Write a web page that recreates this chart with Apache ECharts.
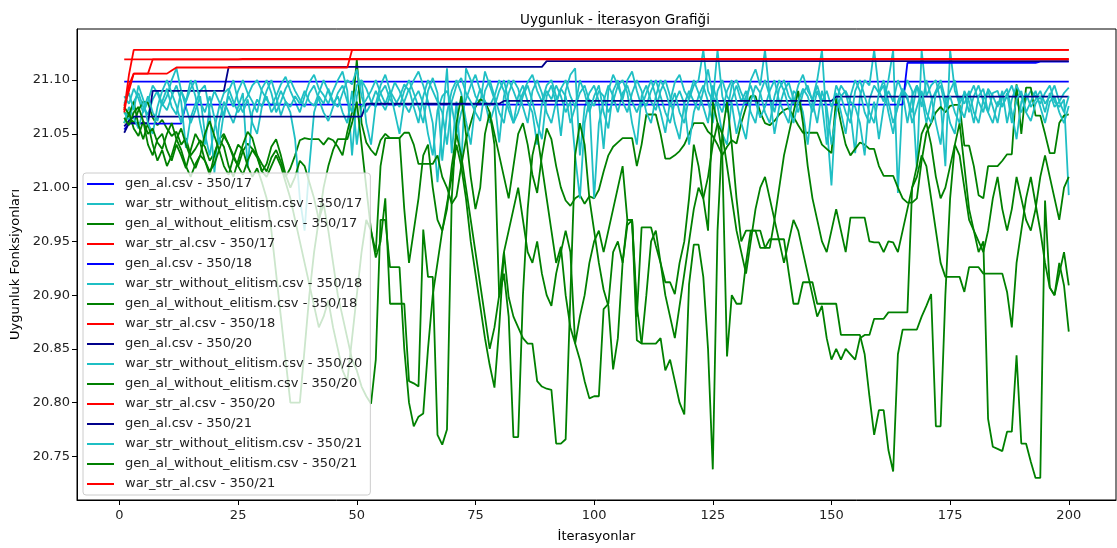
<!DOCTYPE html>
<html><head><meta charset="utf-8">
<script src="https://cdn.jsdelivr.net/npm/echarts@6/dist/echarts.min.js"></script>
<style>html,body{margin:0;padding:0;background:#fff}#c{width:1117px;height:548px}</style>
</head><body><div id="c"></div>
<script>
const chartTitle = 'Uygunluk - İterasyon Grafiği';
const xName = 'İterasyonlar';
const yName = 'Uygunluk Fonksiyonları';
const xTicks = [0, 25, 50, 75, 100, 125, 150, 175, 200];
const yTicks = [20.75, 20.80, 20.85, 20.90, 20.95, 21.00, 21.05, 21.10];
const iterations = Array.from({length: 200}, (_, k) => k + 1);

// elitist runs: [iteration, value] at the iterations where the best value changes
const genAl17 = [[1,21.0985],[200,21.0985]];
const genAl18 = [[1,21.054],[2,21.0595],[13,21.0595],[14,21.0772],[165,21.0772],[166,21.116],[193,21.116],[194,21.1172],[200,21.1172]];
const genAl20 = [[1,21.051],[2,21.060],[6,21.060],[7,21.090],[22,21.090],[23,21.1123],[89,21.1123],[90,21.1176],[200,21.1176]];
const genAl21 = [[1,21.057],[2,21.062],[3,21.066],[51,21.066],[52,21.078],[80,21.078],[81,21.0806],[150,21.0806],[151,21.0846],[200,21.0846]];
const warStrAl17 = [[1,21.072],[2,21.105],[3,21.128],[200,21.128]];
const warStrAl18 = [[1,21.1192],[25,21.1192],[26,21.1196],[200,21.1196]];
const warStrAl20 = [[1,21.070],[2,21.095],[3,21.106],[10,21.106],[11,21.109],[12,21.1117],[48,21.1117],[49,21.128],[200,21.128]];
const warStrAl21 = [[1,21.076],[2,21.090],[3,21.106],[6,21.106],[7,21.1192],[200,21.1192]];

const warWo17 = [
21.085,21.078,21.092,21.083,21.070,21.080,21.095,21.088,21.076,21.085,
21.100,21.111,21.090,21.075,21.060,21.072,21.085,21.050,21.030,21.055,
21.075,21.088,21.092,21.080,21.070,21.078,21.085,21.095,21.100,21.090,
21.082,21.076,21.085,21.096,21.103,21.090,21.080,21.070,21.085,21.098,
21.105,21.092,21.086,21.078,21.090,21.100,21.108,21.090,21.030,21.085,
21.100,21.092,21.080,21.075,21.088,21.095,21.082,21.076,21.084,21.096,
21.090,21.100,21.108,21.095,21.080,21.060,21.005,21.060,21.111,21.032,
21.080,21.020,21.111,21.100,21.085,21.078,21.108,21.095,21.082,21.042,
21.085,21.100,21.090,21.078,21.088,21.098,21.105,21.090,21.080,21.095,
21.100,21.085,21.048,21.090,21.105,21.111,21.030,21.075,21.088,21.095,
21.080,21.036,21.090,21.105,21.095,21.082,21.100,21.108,21.090,21.075,
21.088,21.100,21.085,21.070,21.051,21.080,21.098,21.105,21.090,21.082,
21.095,21.100,21.128,21.090,21.080,21.128,21.085,21.070,21.095,21.100,
21.088,21.078,21.100,21.110,21.095,21.128,21.085,21.070,21.092,21.100,
21.085,21.078,21.095,21.105,21.090,21.082,21.100,21.128,21.060,21.002,
21.080,21.095,21.088,21.070,21.032,21.085,21.100,21.095,21.128,21.090,
21.080,21.100,21.128,20.995,21.085,21.100,21.090,21.017,21.128,21.085,
21.095,21.100,21.080,21.020,21.128,21.090,21.078,21.088,21.070,21.085,
21.095,21.080,21.070,21.088,21.090,21.076,21.085,21.095,21.080,21.070,
21.082,21.090,21.085,21.078,21.088,21.095,21.080,21.075,21.082,20.993];
const warWo18 = [
21.070,21.062,21.080,21.088,21.075,21.068,21.082,21.090,21.078,21.072,
21.085,21.095,21.080,21.037,21.065,21.078,21.090,21.095,21.070,21.014,
21.060,21.080,21.070,21.060,21.075,21.088,21.018,21.070,21.082,21.075,
21.090,21.100,21.085,21.067,21.080,21.070,21.045,20.990,20.960,21.020,
21.070,21.085,21.078,21.092,21.080,21.075,21.088,21.100,21.096,21.110,
21.085,21.070,21.078,21.090,21.080,21.072,21.085,21.098,21.090,21.078,
21.070,21.082,21.090,21.078,21.050,21.030,21.072,21.085,21.090,21.076,
21.050,21.070,21.082,21.095,21.105,21.090,21.080,21.076,21.085,21.100,
21.090,21.072,21.060,21.085,21.095,21.080,21.070,21.040,21.078,21.090,
21.082,21.095,21.085,21.070,21.080,21.030,20.990,21.060,21.082,21.076,
21.090,21.085,21.070,21.080,21.095,21.100,21.088,21.060,21.040,21.085,
21.095,21.080,21.072,21.090,21.100,21.085,21.060,21.045,21.078,21.090,
21.080,21.072,21.090,21.110,21.085,21.076,21.050,21.040,21.082,21.095,
21.080,21.090,21.070,21.060,21.088,21.100,21.085,21.050,21.075,21.090,
21.098,21.082,21.070,21.088,21.095,21.080,21.060,21.090,21.075,21.040,
21.070,21.085,21.090,21.080,21.075,21.060,21.030,21.082,21.095,21.088,
21.100,21.080,21.060,21.075,21.090,21.082,21.070,21.095,21.085,21.060,
21.080,21.090,21.100,21.082,21.060,21.050,21.085,21.078,21.090,21.070,
21.060,21.082,21.090,21.075,21.060,21.085,21.092,21.070,21.045,21.080,
21.088,21.075,21.082,21.090,21.078,21.085,21.095,21.080,21.088,21.093];
const warWo20 = [
21.060,21.075,21.065,21.055,21.072,21.085,21.070,21.062,21.080,21.092,
21.075,21.068,21.090,21.080,21.100,21.085,21.060,21.040,21.075,21.090,
21.080,21.065,21.090,21.100,21.080,21.070,21.082,21.060,21.050,21.075,
21.085,21.070,21.078,21.090,21.080,21.075,21.085,21.078,21.090,21.080,
21.076,21.088,21.100,21.090,21.078,21.085,21.070,21.060,21.090,21.040,
21.075,21.082,21.090,21.100,21.088,21.078,21.090,21.082,21.075,21.090,
21.100,21.088,21.075,21.060,21.090,21.102,21.088,21.025,21.070,21.090,
21.100,21.088,21.062,21.040,21.078,21.092,21.080,21.060,21.075,21.090,
21.100,21.080,21.060,21.070,21.085,21.095,21.080,21.060,21.045,21.085,
21.095,21.078,21.092,21.100,21.085,21.075,21.088,21.095,21.080,20.990,
21.060,21.080,21.095,21.085,21.070,21.088,21.095,21.080,21.070,21.082,
21.076,21.090,21.100,21.085,21.070,21.060,21.080,21.090,21.078,21.040,
21.070,21.085,21.095,21.080,21.060,21.090,21.100,21.085,21.078,21.050,
21.070,21.085,21.095,21.080,21.065,21.075,21.090,21.100,21.080,21.070,
21.060,21.090,21.085,21.070,21.040,21.080,21.095,21.080,21.090,21.075,
21.088,21.070,21.050,21.085,21.100,21.090,21.070,21.060,21.080,21.045,
21.075,21.090,21.080,21.100,21.088,21.060,21.085,21.095,21.075,21.100,
21.085,21.060,21.040,21.080,21.090,21.100,21.075,21.065,21.085,21.095,
21.080,21.070,21.092,21.085,21.075,21.090,21.060,21.082,21.095,21.085,
21.070,21.080,21.090,21.075,21.060,21.080,21.085,21.070,21.060,21.076];
const warWo21 = [
21.078,21.088,21.072,21.095,21.082,21.060,21.050,21.075,21.090,21.100,
21.088,21.076,21.060,21.080,21.092,21.100,21.080,21.070,21.085,21.065,
21.040,21.070,21.085,21.075,21.090,21.100,21.088,21.080,21.070,21.092,
21.100,21.088,21.070,21.080,21.092,21.100,21.090,21.082,21.075,21.088,
21.095,21.082,21.070,21.062,21.075,21.088,21.095,21.080,21.070,21.095,
21.100,21.060,21.040,21.078,21.095,21.105,21.090,21.070,21.050,21.080,
21.092,21.075,21.060,21.085,21.100,21.090,21.080,21.070,21.040,21.080,
21.095,21.102,21.088,21.080,21.070,21.062,21.090,21.100,21.085,21.070,
21.060,21.088,21.100,21.092,21.075,21.060,21.090,21.100,21.088,21.070,
21.060,21.080,21.092,21.085,21.060,21.075,21.100,21.088,21.070,21.085,
21.095,21.070,21.055,21.090,21.100,21.080,21.070,21.088,21.100,21.090,
21.070,21.060,21.085,21.100,21.090,21.075,21.088,21.070,21.060,21.085,
21.100,21.088,21.075,21.060,21.095,21.080,21.070,21.090,21.100,21.080,
21.060,21.045,21.080,21.095,21.088,21.070,21.060,21.085,21.100,21.090,
21.075,21.060,21.080,21.092,21.085,21.070,21.090,21.078,21.040,21.070,
21.095,21.085,21.070,21.060,21.090,21.100,21.085,21.070,21.060,21.088,
21.095,21.070,21.050,21.080,21.092,21.085,21.060,21.075,21.090,21.070,
21.060,21.088,21.095,21.075,21.085,21.070,21.060,21.090,21.080,21.060,
21.085,21.092,21.070,21.060,21.080,21.075,21.088,21.060,21.082,21.090,
21.070,21.062,21.078,21.085,21.070,21.088,21.075,21.080,21.070,21.085];

const genWo17 = [
21.070,21.066,21.060,21.072,21.080,21.079,21.065,21.058,21.063,21.055,
21.048,21.052,21.040,21.046,21.030,21.036,21.044,21.038,21.025,21.032,
21.045,21.050,21.040,21.028,21.020,21.034,21.041,21.036,21.030,21.022,
21.015,21.028,21.035,21.024,21.010,21.018,21.030,21.044,21.046,21.045,
21.045,21.045,21.040,21.046,21.044,21.038,21.030,21.052,21.070,21.119,
21.060,21.042,21.035,21.030,21.044,21.050,21.046,21.046,21.046,21.051,
21.051,21.040,21.022,21.022,21.022,21.022,21.030,21.010,21.000,20.985,
20.992,21.020,21.045,21.060,21.075,21.082,21.080,21.070,21.050,21.030,
21.010,20.990,21.020,21.050,21.060,21.040,21.012,20.995,21.030,21.055,
21.045,21.020,21.000,20.988,20.983,20.990,20.993,20.985,20.992,20.990,
20.998,21.015,21.030,21.038,21.042,21.046,21.046,21.046,21.020,21.040,
21.068,21.068,21.068,21.050,21.027,21.027,21.030,21.034,21.040,21.050,
21.060,21.060,21.060,21.052,21.048,21.040,21.030,21.038,21.044,21.041,
21.060,21.075,21.085,21.085,21.070,21.060,21.058,21.062,21.068,21.072,
21.074,21.066,21.058,21.051,21.051,21.051,21.051,21.040,21.036,21.032,
21.083,21.060,21.040,21.030,21.036,21.042,21.040,21.036,21.036,21.020,
21.011,21.011,21.011,21.000,20.990,20.986,20.986,20.990,21.025,21.051,
21.060,21.070,21.075,21.070,21.076,21.077,21.077,21.039,21.039,21.020,
20.993,20.990,21.020,21.020,21.020,21.025,21.031,21.031,21.096,21.050,
21.093,21.093,21.067,21.067,21.050,21.032,21.032,21.060,21.067,21.068];
const genWo18 = [
21.060,21.070,21.055,21.048,21.062,21.040,21.030,21.045,21.050,21.035,
21.025,21.040,21.030,21.018,21.035,21.050,21.042,21.025,21.012,21.030,
21.045,21.038,21.020,21.010,21.025,21.040,21.052,21.046,21.030,21.015,
21.022,21.038,21.045,21.030,21.012,21.000,21.010,21.025,21.020,21.005,
20.990,20.970,20.985,20.960,20.930,20.900,20.880,20.860,20.840,20.830,
20.815,20.806,20.799,20.840,20.970,20.970,20.926,20.926,20.926,20.850,
20.800,20.778,20.787,20.790,20.850,20.900,20.930,20.960,20.985,21.010,
21.040,21.020,20.990,20.950,20.920,20.890,20.860,20.835,20.814,20.870,
20.940,20.898,20.880,20.870,20.860,20.855,20.855,20.820,20.815,20.813,
20.812,20.762,20.762,20.766,20.900,21.030,21.060,21.040,20.990,20.960,
20.930,20.905,20.890,20.831,20.860,20.930,20.970,20.970,20.890,20.855,
20.855,20.855,20.855,20.860,20.830,20.840,20.820,20.800,20.789,20.910,
20.947,20.947,20.917,20.850,20.738,20.960,21.050,21.080,21.040,20.990,
20.950,20.960,20.960,20.960,20.944,20.944,20.952,20.952,20.952,20.952,
20.921,20.892,20.892,20.912,20.912,20.912,20.892,20.892,20.892,20.892,
20.892,20.863,20.863,20.863,20.863,20.863,20.845,20.806,20.770,20.793,
20.793,20.756,20.736,20.845,20.868,20.868,20.868,20.868,20.880,20.890,
20.901,20.778,20.778,20.900,20.990,21.040,21.060,21.020,20.980,20.960,
20.940,20.950,20.785,20.759,20.757,20.755,20.773,20.773,20.844,20.762,
20.762,20.745,20.730,20.730,20.988,20.907,20.900,20.930,20.909,20.866];
const genWo20 = [
21.075,21.068,21.080,21.058,21.045,21.060,21.040,21.025,21.035,21.020,
21.030,21.045,21.055,21.040,21.028,21.018,21.030,21.050,21.062,21.048,
21.035,21.020,21.012,21.028,21.040,21.035,21.020,21.010,21.018,21.005,
20.990,20.960,20.920,20.880,20.840,20.800,20.800,20.800,20.850,20.900,
20.940,20.970,21.000,21.020,21.035,21.045,21.045,21.045,21.060,21.080,
21.040,21.000,20.960,20.935,20.950,20.990,20.892,20.892,20.892,20.892,
20.820,20.818,20.815,20.961,20.917,20.917,20.770,20.761,20.775,20.990,
21.060,21.085,21.050,21.010,20.980,21.000,21.050,21.070,21.040,20.898,
20.920,20.880,20.768,20.768,20.900,20.980,21.030,21.050,21.020,20.990,
20.960,20.930,20.945,20.900,20.870,20.855,20.840,20.820,20.804,20.806,
20.806,20.887,20.892,20.940,20.950,20.930,20.965,20.970,20.880,20.963,
20.963,20.963,20.946,20.930,20.912,20.912,20.901,20.930,20.950,20.990,
21.040,21.020,20.990,20.960,21.080,21.060,21.030,20.843,20.900,20.892,
20.892,20.930,20.960,20.960,20.960,20.944,20.944,20.970,21.000,21.030,
21.050,21.070,21.090,21.060,21.020,20.990,20.970,20.950,20.940,20.960,
20.980,20.960,20.940,20.972,20.972,20.972,20.972,20.950,20.949,20.949,
20.940,20.950,20.949,20.940,20.960,20.980,21.000,21.010,21.030,21.020,
20.990,20.960,20.930,20.917,20.917,20.917,20.917,20.903,20.926,20.926,
20.926,20.920,20.920,20.920,20.920,20.920,20.903,20.870,20.930,20.960,
20.990,21.010,20.985,20.960,20.930,20.907,20.900,20.920,20.940,20.909];
const genWo21 = [
21.065,21.058,21.070,21.075,21.062,21.050,21.055,21.042,21.036,21.050,
21.060,21.045,21.035,21.020,21.010,21.022,21.030,21.025,21.015,21.022,
21.035,21.048,21.040,21.030,21.020,21.012,21.025,21.035,21.028,21.015,
21.010,21.020,21.030,21.020,21.005,20.990,20.970,20.950,20.930,20.910,
20.890,20.870,20.880,20.895,20.870,20.850,20.830,20.820,20.860,20.900,
20.940,20.970,20.960,20.940,21.020,21.046,21.046,21.046,21.046,20.980,
20.930,20.960,20.990,21.030,21.040,21.000,20.970,20.960,20.980,21.020,
21.050,21.030,21.000,20.970,20.940,20.910,20.880,20.850,20.870,20.900,
20.940,20.960,20.980,21.000,20.970,20.940,20.930,20.950,20.920,20.900,
20.890,20.920,20.940,20.960,20.940,20.855,20.880,20.900,20.930,20.950,
20.960,20.940,20.960,20.980,21.000,21.020,20.970,20.970,20.858,20.855,
20.900,20.950,20.960,20.930,20.900,20.880,20.860,20.890,20.920,20.950,
20.980,21.000,20.990,21.010,21.040,21.060,21.050,21.020,20.990,20.960,
20.940,20.920,20.950,20.980,21.000,21.010,20.990,20.970,20.950,20.930,
20.950,20.970,20.960,20.940,20.920,20.900,20.880,20.890,20.860,20.840,
20.850,20.840,20.850,20.845,20.840,20.860,20.863,20.863,20.878,20.878,
20.878,20.884,20.884,20.884,20.884,20.884,21.000,21.020,21.050,21.060,
21.040,21.010,20.990,21.000,21.020,21.040,21.030,21.000,20.970,20.960,
20.950,20.940,20.960,20.990,21.010,20.980,20.960,20.980,21.010,20.990,
20.970,20.960,20.980,21.010,21.030,21.010,20.990,20.970,21.000,21.010];

const BLUE = '#0000ff', NAVY = '#00008b', CYAN = '#1fbfc4', GREEN = '#008000', RED = '#ff0000';
const runs = ['350/17', '350/18', '350/20', '350/21'];
const genAlData = [genAl17, genAl18, genAl20, genAl21];
const warWoData = [warWo17, warWo18, warWo20, warWo21];
const genWoData = [genWo17, genWo18, genWo20, genWo21];
const warAlData = [warStrAl17, warStrAl18, warStrAl20, warStrAl21];
const blueColors = [BLUE, BLUE, NAVY, NAVY];

const series = [];
runs.forEach((r, k) => {
  const mk = (name, data, color) => ({
    name: name + ' - ' + r, type: 'line', data: data, symbol: 'none', showSymbol: false,
    color: color, lineStyle: {width: 1.8, color: color}, animation: false, silent: true
  });
  series.push(mk('gen_al.csv', genAlData[k], blueColors[k]));
  series.push(mk('war_str_without_elitism.csv', warWoData[k].map((v, j) => [iterations[j], v]), CYAN));
  series.push(mk('gen_al_without_elitism.csv', genWoData[k].map((v, j) => [iterations[j], v]), GREEN));
  series.push(mk('war_str_al.csv', warAlData[k], RED));
});

const FONT = 'DejaVu Sans';
const chart = echarts.init(document.getElementById('c'), null, {renderer: 'canvas'});
chart.setOption({
  animation: false,
  backgroundColor: '#fff',
  title: {text: chartTitle, left: 610, top: 8, textAlign: 'center',
    textStyle: {fontFamily: FONT, fontSize: 13.5, fontWeight: 'normal', color: '#000'}},
  grid: {left: 77, top: 29, right: 1, bottom: 45, show: true, borderColor: '#000', borderWidth: 1},
  xAxis: {type: 'value', min: -8.95, max: 209.95, name: xName, nameLocation: 'middle', nameGap: 30,
    nameTextStyle: {fontFamily: FONT, fontSize: 13, color: '#000'},
    axisLine: {onZero: false, lineStyle: {color: '#000'}},
    axisTick: {customValues: xTicks, length: 5, lineStyle: {color: '#000'}},
    axisLabel: {customValues: xTicks, fontFamily: FONT, fontSize: 13, color: '#222', margin: 9},
    splitLine: {show: false}},
  yAxis: {type: 'value', min: 20.7095, max: 21.1475, name: yName, nameLocation: 'middle', nameGap: 54,
    nameRotate: 90,
    nameTextStyle: {fontFamily: FONT, fontSize: 13, color: '#000'},
    axisLine: {show: true, onZero: false, lineStyle: {color: '#000'}},
    axisTick: {show: true, customValues: yTicks, length: 5, lineStyle: {color: '#000'}},
    axisLabel: {customValues: yTicks, fontFamily: FONT, fontSize: 13, color: '#222', margin: 7,
      formatter: v => v.toFixed(2)},
    splitLine: {show: false}},
  legend: {orient: 'vertical', left: 83, top: 173, icon: 'rect', itemWidth: 27, itemHeight: 2, itemGap: 6,
    padding: [4, 8, 4, 4], backgroundColor: 'rgba(255,255,255,0.8)', borderColor: '#ccc', borderWidth: 1,
    borderRadius: 3, selectedMode: false,
    textStyle: {fontFamily: FONT, fontSize: 13, lineHeight: 14, color: '#222', padding: [0, 0, 0, 6]},
    data: series.map(s => s.name)},
  series: series
});
</script></body></html>
